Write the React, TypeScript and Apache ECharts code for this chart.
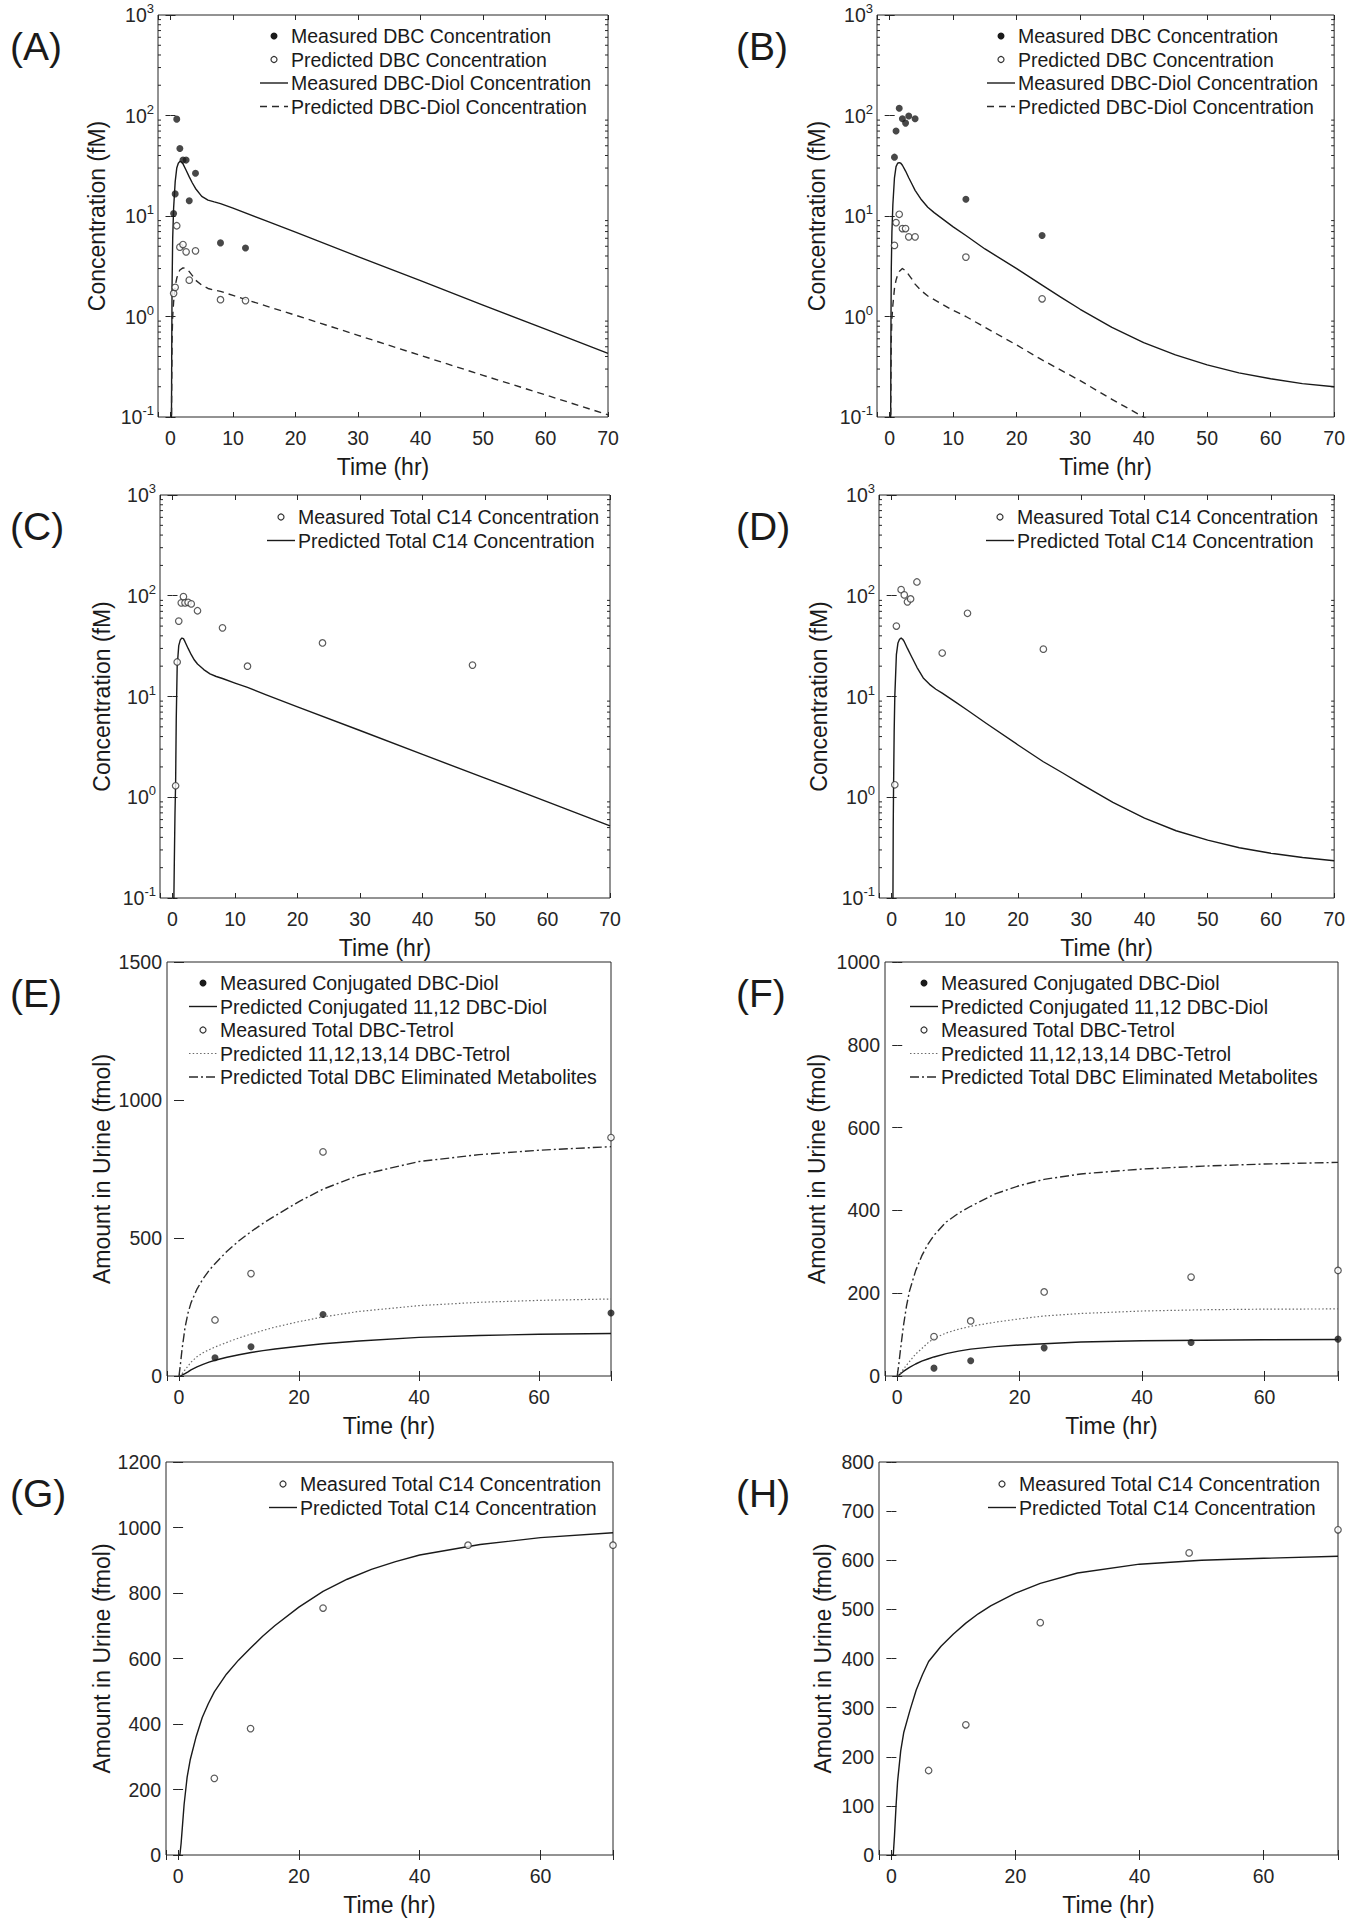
import React, { useEffect, useRef } from "react";
import * as echarts from "echarts";

const FONT = '"Liberation Sans", Arial, Helvetica, sans-serif';
const INK = "#1a1a1a";
const AXIS = "#262626";

// ---------- Panel A ----------
const timeMeasA = [0.5, 0.75, 1, 1.5, 2, 2.5, 3, 4, 8, 12];
const dbcMeasuredA = [10.6, 16.6, 92, 47, 36, 36, 14.2, 26.6, 5.4, 4.8];
const dbcPredictedA = [1.7, 1.95, 8.0, 4.9, 5.2, 4.4, 2.3, 4.5, 1.47, 1.44];
const timeDiolMeasA = [0.15, 0.2, 0.25, 0.35, 0.5, 0.75, 1, 1.25, 1.5, 1.75, 2, 2.5, 3, 3.5, 4, 5, 6, 7, 8, 10, 15, 20, 30, 40, 50, 60, 70];
const diolMeasuredA = [0.08, 0.5, 2, 6, 12, 22, 30, 33.5, 35, 34.5, 33, 28.5, 24.5, 21.3, 18.8, 15.7, 14.4, 13.8, 13.3, 12.0, 9.1, 6.9, 3.95, 2.27, 1.3, 0.75, 0.43];
const timeDiolPredA = [0.15, 0.2, 0.25, 0.35, 0.5, 0.75, 1, 1.25, 1.5, 2, 2.5, 3, 3.5, 4, 5, 6, 7, 8, 10, 15, 20, 30, 40, 50, 60, 70];
const diolPredictedA = [0.08, 0.25, 0.6, 1.0, 1.4, 2.0, 2.4, 2.7, 2.9, 3.05, 3.0, 2.8, 2.55, 2.3, 2.05, 1.9, 1.83, 1.78, 1.62, 1.29, 1.03, 0.65, 0.41, 0.26, 0.166, 0.105];

// ---------- Panel B ----------
const timeMeasB = [0.75, 1, 1.5, 2, 2.5, 3, 4, 12, 24];
const dbcMeasuredB = [38.5, 70, 118, 93, 84, 99, 93, 14.7, 6.4];
const dbcPredictedB = [5.1, 8.6, 10.4, 7.5, 7.5, 6.2, 6.2, 3.9, 1.5];
const timeDiolMeasB = [0.15, 0.2, 0.25, 0.35, 0.5, 0.75, 1, 1.25, 1.5, 1.75, 2, 2.5, 3, 3.5, 4, 5, 6, 7, 8, 10, 12, 15, 20, 24, 27, 30, 35, 40, 45, 50, 55, 60, 65, 70];
const diolMeasuredB = [0.08, 0.8, 3, 7, 13, 24, 31, 33.5, 34, 33.5, 32, 28, 24, 20.8, 18, 14.5, 12.2, 10.8, 9.7, 7.8, 6.4, 4.7, 3.0, 2.05, 1.55, 1.18, 0.78, 0.55, 0.415, 0.33, 0.275, 0.24, 0.215, 0.2];
const timeDiolPredB = [0.15, 0.2, 0.25, 0.35, 0.5, 0.75, 1, 1.25, 1.5, 2, 2.5, 3, 3.5, 4, 5, 6, 8, 10, 12, 15, 20, 24, 30, 35, 41];
const diolPredictedB = [0.08, 0.25, 0.6, 0.95, 1.3, 1.9, 2.3, 2.6, 2.8, 3.0, 2.85, 2.6, 2.35, 2.1, 1.8, 1.6, 1.35, 1.15, 1.0, 0.78, 0.52, 0.37, 0.23, 0.15, 0.092];

// ---------- Panel C ----------
const timeMeasC = [0.5, 0.75, 1, 1.4, 1.75, 2, 2.5, 3, 4, 8, 12, 24, 48];
const c14MeasuredC = [1.3, 22, 56, 85, 98, 85, 86, 83, 71, 48, 20, 34, 20.5];
const timePredC = [0.2, 0.3, 0.4, 0.5, 0.6, 0.75, 1, 1.25, 1.5, 1.75, 2, 2.5, 3, 3.5, 4, 5, 6, 7, 8, 10, 12, 15, 20, 30, 40, 50, 60, 70];
const c14PredictedC = [0.08, 0.25, 0.7, 1.4, 6, 20, 32, 36.5, 38, 37.5, 35, 30, 26, 23, 21, 18.5, 16.8, 15.8, 15.1, 13.6, 12.3, 10.4, 7.9, 4.6, 2.66, 1.55, 0.9, 0.52];

// ---------- Panel D ----------
const timeMeasD = [0.5, 0.75, 1.5, 2, 2.5, 3, 4, 8, 12, 24];
const c14MeasuredD = [1.33, 50, 115, 102, 87, 93, 137, 27, 67, 29.5];
const timePredD = [0.2, 0.25, 0.3, 0.4, 0.5, 0.75, 1, 1.25, 1.5, 1.75, 2, 2.5, 3, 3.5, 4, 5, 6, 7, 8, 10, 12, 15, 20, 24, 27, 30, 35, 40, 45, 50, 55, 60, 65, 70];
const c14PredictedD = [0.08, 0.5, 1.2, 4.5, 10, 26, 34, 37, 38, 37, 35, 30, 26, 22.5, 19.5, 15.3, 13.2, 11.8, 10.8, 8.9, 7.3, 5.4, 3.3, 2.25, 1.75, 1.35, 0.89, 0.62, 0.465, 0.375, 0.315, 0.278, 0.252, 0.234];

// ---------- Panel E ----------
const timeMeasE = [6, 12, 24, 72];
const diolMeasuredE = [66, 106, 223, 228];
const tetrolMeasuredE = [203, 371, 812, 864];
const timePredE = [0, 0.25, 0.5, 1, 1.5, 2, 3, 4, 5, 6, 8, 10, 12, 14, 16, 20, 24, 30, 40, 50, 60, 72];
const diolPredictedE = [0, 1, 3, 9, 15, 22, 33, 42, 50, 57, 68, 77, 85, 92, 98, 108, 117, 127, 140, 147, 151, 154];
const tetrolPredictedE = [0, 3, 8, 22, 36, 50, 70, 84, 95, 105, 122, 138, 152, 165, 177, 197, 214, 234, 255, 267, 274, 279];
const totalPredictedE = [0, 45, 95, 175, 228, 265, 315, 352, 382, 407, 452, 490, 523, 553, 580, 632, 677, 727, 777, 802, 818, 831];

// ---------- Panel F ----------
const timeMeasF = [6, 12, 24, 48, 72];
const diolMeasuredF = [19, 37, 68, 81, 89];
const tetrolMeasuredF = [95, 133, 203, 239, 255];
const timePredF = [0, 0.25, 0.5, 1, 1.5, 2, 3, 4, 5, 6, 8, 10, 12, 16, 20, 24, 30, 40, 50, 60, 72];
const diolPredictedF = [0, 2, 5, 11, 16, 21, 29, 36, 41, 46, 54, 60, 65, 71, 75, 78, 82, 85, 86.5, 87.5, 88];
const tetrolPredictedF = [0, 3, 7, 16, 26, 35, 53, 66, 80, 91, 104, 113, 120, 130, 138, 145, 151, 157, 160, 161.5, 162];
const totalPredictedF = [0, 28, 60, 120, 168, 205, 254, 290, 318, 340, 372, 393, 410, 440, 460, 475, 488, 500, 507, 512, 516];

// ---------- Panel G ----------
const timeMeasG = [6, 12, 24, 48, 72];
const c14MeasuredG = [234, 386, 754, 946, 946];
const timePredG = [0, 0.3, 0.5, 0.75, 1, 1.5, 2, 3, 4, 5, 6, 8, 10, 12, 14, 16, 20, 24, 28, 32, 36, 40, 50, 60, 72];
const c14PredictedG = [0, 0, 35, 95, 155, 238, 290, 362, 420, 462, 498, 552, 595, 632, 668, 700, 757, 805, 842, 872, 896, 916, 948, 969, 984];

// ---------- Panel H ----------
const timeMeasH = [6, 12, 24, 48, 72];
const c14MeasuredH = [172, 265, 473, 615, 662];
const timePredH = [0, 0.3, 0.5, 0.75, 1, 1.5, 2, 3, 4, 5, 6, 8, 10, 12, 14, 16, 20, 24, 30, 40, 50, 60, 72];
const c14PredictedH = [0, 0, 40, 100, 150, 212, 250, 295, 336, 367, 394, 425, 450, 472, 491, 507, 533, 553, 574, 592, 600, 604, 608];

// ---------- Legends / labels ----------
const legendAB = ["Measured DBC Concentration", "Predicted DBC Concentration", "Measured DBC-Diol Concentration", "Predicted DBC-Diol Concentration"];
const legendCD = ["Measured Total C14 Concentration", "Predicted Total C14 Concentration"];
const legendEF = ["Measured Conjugated DBC-Diol", "Predicted Conjugated 11,12 DBC-Diol", "Measured Total DBC-Tetrol", "Predicted 11,12,13,14 DBC-Tetrol", "Predicted Total DBC Eliminated Metabolites"];
const legendGH = ["Measured Total C14 Concentration", "Predicted Total C14 Concentration"];
const panelLabels = ["(A)", "(B)", "(C)", "(D)", "(E)", "(F)", "(G)", "(H)"];
const logMinorTicks = [0.2, 0.3, 0.4, 0.5, 0.6, 0.7, 0.8, 0.9, 2, 3, 4, 5, 6, 7, 8, 9, 20, 30, 40, 50, 60, 70, 80, 90, 200, 300, 400, 500, 600, 700, 800, 900];
const xAxisName = "Time (hr)";
const concName = "Concentration (fM)";
const urineName = "Amount in Urine (fmol)";

type Kind = "dot" | "ring" | "solid" | "dashed" | "dotted" | "dashdot";
const LINE_DASH: Record<string, any> = {
  solid: "solid",
  dashed: [7, 5],
  dotted: [1.5, 2.2],
  dashdot: [9, 3, 2, 3],
};
const LINE_COLOR: Record<string, string> = { solid: INK, dashed: "#2a2a2a", dotted: "#6a6a6a", dashdot: "#2a2a2a" };

const pairs = (xs: number[], ys: number[]) => xs.map((x, i) => [x, ys[i]]);

interface SeriesDef { name: string; kind: Kind; x: number[]; y: number[] }
interface PanelDef {
  box: [number, number, number, number];
  log: boolean;
  xMax: number;
  xStep: number;
  yMax?: number;
  yStep?: number;
  yName: string;
  yNameGap: number;
  legend: { x: number; y: number };
  legendNames: string[];
  legendKinds: Kind[];
  series: SeriesDef[];
}

const panels: PanelDef[] = [
  {
    box: [158, 15, 608, 417], log: true, xMax: 70, xStep: 10, yName: concName, yNameGap: 50,
    legend: { x: 260, y: 36 }, legendNames: legendAB, legendKinds: ["dot", "ring", "solid", "dashed"],
    series: [
      { name: legendAB[2], kind: "solid", x: timeDiolMeasA, y: diolMeasuredA },
      { name: legendAB[3], kind: "dashed", x: timeDiolPredA, y: diolPredictedA },
      { name: legendAB[0], kind: "dot", x: timeMeasA, y: dbcMeasuredA },
      { name: legendAB[1], kind: "ring", x: timeMeasA, y: dbcPredictedA },
    ],
  },
  {
    box: [877, 15, 1335, 417], log: true, xMax: 70, xStep: 10, yName: concName, yNameGap: 49,
    legend: { x: 987, y: 36 }, legendNames: legendAB, legendKinds: ["dot", "ring", "solid", "dashed"],
    series: [
      { name: legendAB[2], kind: "solid", x: timeDiolMeasB, y: diolMeasuredB },
      { name: legendAB[3], kind: "dashed", x: timeDiolPredB, y: diolPredictedB },
      { name: legendAB[0], kind: "dot", x: timeMeasB, y: dbcMeasuredB },
      { name: legendAB[1], kind: "ring", x: timeMeasB, y: dbcPredictedB },
    ],
  },
  {
    box: [160, 495, 610, 898], log: true, xMax: 70, xStep: 10, yName: concName, yNameGap: 47,
    legend: { x: 267, y: 517 }, legendNames: legendCD, legendKinds: ["ring", "solid"],
    series: [
      { name: legendCD[1], kind: "solid", x: timePredC, y: c14PredictedC },
      { name: legendCD[0], kind: "ring", x: timeMeasC, y: c14MeasuredC },
    ],
  },
  {
    box: [879, 495, 1335, 898], log: true, xMax: 70, xStep: 10, yName: concName, yNameGap: 49,
    legend: { x: 986, y: 517 }, legendNames: legendCD, legendKinds: ["ring", "solid"],
    series: [
      { name: legendCD[1], kind: "solid", x: timePredD, y: c14PredictedD },
      { name: legendCD[0], kind: "ring", x: timeMeasD, y: c14MeasuredD },
    ],
  },
  {
    box: [167, 962, 611, 1376], log: false, xMax: 72, xStep: 20, yMax: 1500, yStep: 500, yName: urineName, yNameGap: 54,
    legend: { x: 189, y: 983 }, legendNames: legendEF, legendKinds: ["dot", "solid", "ring", "dotted", "dashdot"],
    series: [
      { name: legendEF[1], kind: "solid", x: timePredE, y: diolPredictedE },
      { name: legendEF[3], kind: "dotted", x: timePredE, y: tetrolPredictedE },
      { name: legendEF[4], kind: "dashdot", x: timePredE, y: totalPredictedE },
      { name: legendEF[0], kind: "dot", x: timeMeasE, y: diolMeasuredE },
      { name: legendEF[2], kind: "ring", x: timeMeasE, y: tetrolMeasuredE },
    ],
  },
  {
    box: [885, 962, 1338, 1376], log: false, xMax: 72, xStep: 20, yMax: 1000, yStep: 200, yName: urineName, yNameGap: 57,
    legend: { x: 910, y: 983 }, legendNames: legendEF, legendKinds: ["dot", "solid", "ring", "dotted", "dashdot"],
    series: [
      { name: legendEF[1], kind: "solid", x: timePredF, y: diolPredictedF },
      { name: legendEF[3], kind: "dotted", x: timePredF, y: tetrolPredictedF },
      { name: legendEF[4], kind: "dashdot", x: timePredF, y: totalPredictedF },
      { name: legendEF[0], kind: "dot", x: timeMeasF, y: diolMeasuredF },
      { name: legendEF[2], kind: "ring", x: timeMeasF, y: tetrolMeasuredF },
    ],
  },
  {
    box: [166, 1462, 613, 1855], log: false, xMax: 72, xStep: 20, yMax: 1200, yStep: 200, yName: urineName, yNameGap: 53,
    legend: { x: 269, y: 1484 }, legendNames: legendGH, legendKinds: ["ring", "solid"],
    series: [
      { name: legendGH[1], kind: "solid", x: timePredG, y: c14PredictedG },
      { name: legendGH[0], kind: "ring", x: timeMeasG, y: c14MeasuredG },
    ],
  },
  {
    box: [879, 1462, 1338, 1855], log: false, xMax: 72, xStep: 20, yMax: 800, yStep: 100, yName: urineName, yNameGap: 45,
    legend: { x: 988, y: 1484 }, legendNames: legendGH, legendKinds: ["ring", "solid"],
    series: [
      { name: legendGH[1], kind: "solid", x: timePredH, y: c14PredictedH },
      { name: legendGH[0], kind: "ring", x: timeMeasH, y: c14MeasuredH },
    ],
  },
];

function buildOption() {
  const grid: any[] = [];
  const xAxis: any[] = [];
  const yAxis: any[] = [];
  const series: any[] = [];
  const graphic: any[] = [];
  const tick = { inside: true, length: 5, lineStyle: { color: AXIS, width: 1 } };
  const labelStyle = { fontSize: 19.5, fontFamily: FONT, color: AXIS };
  const nameStyle = { fontSize: 23, fontFamily: FONT, color: INK };

  panels.forEach((p, i) => {
    const [l, t, r, b] = p.box;
    grid.push({ left: l, top: t, width: r - l, height: b - t, show: true, borderColor: AXIS, borderWidth: 1, backgroundColor: "transparent", containLabel: false });

    const xCommon = {
      type: "value", gridIndex: i, min: -2, max: p.xMax, splitNumber: 4,
      minInterval: p.xStep, maxInterval: p.xStep,
      splitLine: { show: false }, axisLine: { show: false }, axisTick: tick,
    };
    xAxis.push({
      ...xCommon, position: "bottom",
      axisLabel: {
        ...labelStyle, margin: 11,
        formatter: (v: number) => (v >= 0 && Math.abs(v % p.xStep) < 1e-6 && v <= p.xMax ? String(Math.round(v)) : ""),
      },
      name: xAxisName, nameLocation: "middle", nameGap: 38, nameTextStyle: nameStyle,
    });
    xAxis.push({ ...xCommon, position: "top", axisLabel: { show: false } });

    if (p.log) {
      const yCommon = {
        type: "log", logBase: 10, gridIndex: i, min: 0.1, max: 1000,
        splitLine: { show: false }, axisLine: { show: false }, axisTick: tick,
      };
      yAxis.push({
        ...yCommon, position: "left",
        axisLabel: {
          margin: 4,
          formatter: (v: number) => `{b|10}{s|${Math.round(Math.log10(v))}}`,
          rich: {
            b: { fontSize: 19.5, fontFamily: FONT, color: AXIS, lineHeight: 26 },
            s: { fontSize: 13, fontFamily: FONT, color: AXIS, lineHeight: 13, verticalAlign: "top" },
          },
        },
        name: p.yName, nameLocation: "middle", nameGap: p.yNameGap, nameTextStyle: nameStyle,
      });
      yAxis.push({ ...yCommon, position: "right", axisLabel: { show: false } });
      series.push({
        type: "custom", name: "minor-ticks-" + i, xAxisIndex: 2 * i, yAxisIndex: 2 * i, silent: true, clip: false,
        data: logMinorTicks.map((v) => [0, v]),
        encode: { x: 0, y: 1 },
        renderItem: (params: any, api: any) => {
          const v = api.value(1);
          const pl = api.coord([-2, v]);
          const pr = api.coord([p.xMax, v]);
          return {
            type: "group",
            children: [
              { type: "line", shape: { x1: pl[0], y1: pl[1], x2: pl[0] + 3, y2: pl[1] }, style: { stroke: AXIS, lineWidth: 1 } },
              { type: "line", shape: { x1: pr[0] - 3, y1: pr[1], x2: pr[0], y2: pr[1] }, style: { stroke: AXIS, lineWidth: 1 } },
            ],
          };
        },
        z: 1,
      });
    } else {
      const yCommon = {
        type: "value", gridIndex: i, min: 0, max: p.yMax, interval: p.yStep,
        splitLine: { show: false }, axisLine: { show: false }, axisTick: tick,
      };
      yAxis.push({
        ...yCommon, position: "left",
        axisLabel: { ...labelStyle, margin: 5, formatter: (v: number) => String(v) },
        name: p.yName, nameLocation: "middle", nameGap: p.yNameGap, nameTextStyle: nameStyle,
      });
      yAxis.push({ ...yCommon, position: "right", axisLabel: { show: false } });
    }

    p.series.forEach((s) => {
      const base = { name: s.name, xAxisIndex: 2 * i, yAxisIndex: 2 * i, data: pairs(s.x, s.y) };
      if (s.kind === "dot") {
        series.push({ ...base, type: "scatter", symbol: "circle", symbolSize: 7, itemStyle: { color: INK }, z: 4 });
      } else if (s.kind === "ring") {
        series.push({ ...base, type: "scatter", symbol: "circle", symbolSize: 6.5, itemStyle: { color: "#ffffff", borderColor: "#333333", borderWidth: 1.2 }, z: 5 });
      } else {
        series.push({
          ...base, type: "line", symbol: "none", showSymbol: false, smooth: false, clip: true,
          lineStyle: { color: LINE_COLOR[s.kind], width: s.kind === "dotted" ? 1.2 : 1.4, type: LINE_DASH[s.kind], join: "round" },
          z: 3,
        });
      }
    });

    // legend (drawn as graphic)
    const pitch = 23.5;
    p.legendNames.forEach((name, j) => {
      const cy = p.legend.y + j * pitch;
      const x0 = p.legend.x;
      const kind = p.legendKinds[j];
      if (kind === "dot") {
        graphic.push({ type: "circle", shape: { cx: x0 + 14, cy, r: 3.5 }, style: { fill: INK } });
      } else if (kind === "ring") {
        graphic.push({ type: "circle", shape: { cx: x0 + 14, cy, r: 3 }, style: { fill: "#fff", stroke: "#333", lineWidth: 1.2 } });
      } else {
        const dash = LINE_DASH[kind];
        graphic.push({
          type: "line", shape: { x1: x0, y1: cy, x2: x0 + 28, y2: cy },
          style: { stroke: LINE_COLOR[kind], lineWidth: kind === "dotted" ? 1.2 : 1.4, lineDash: dash === "solid" ? null : dash },
        });
      }
      graphic.push({
        type: "text", x: x0 + 31, y: cy,
        style: { text: name, fill: INK, font: `19.5px ${FONT}`, align: "left", verticalAlign: "middle" },
      });
    });

    // panel label
    const col = i % 2;
    graphic.push({
      type: "text", x: col === 0 ? 10 : 736, y: t + 31,
      style: { text: panelLabels[i], fill: INK, font: `39px ${FONT}`, align: "left", verticalAlign: "middle" },
    });
  });

  return {
    animation: false,
    backgroundColor: "#ffffff",
    grid, xAxis, yAxis, series, graphic,
  };
}

export default function App() {
  const ref = useRef<HTMLDivElement>(null);
  useEffect(() => {
    if (!ref.current) return;
    const chart = echarts.init(ref.current, undefined, { renderer: "svg" });
    chart.setOption(buildOption() as any);
    return () => chart.dispose();
  }, []);
  return (
    <div
      ref={ref}
      style={{ position: "absolute", left: 0, top: 0, width: 1348, height: 1920, background: "#fff" }}
    />
  );
}
